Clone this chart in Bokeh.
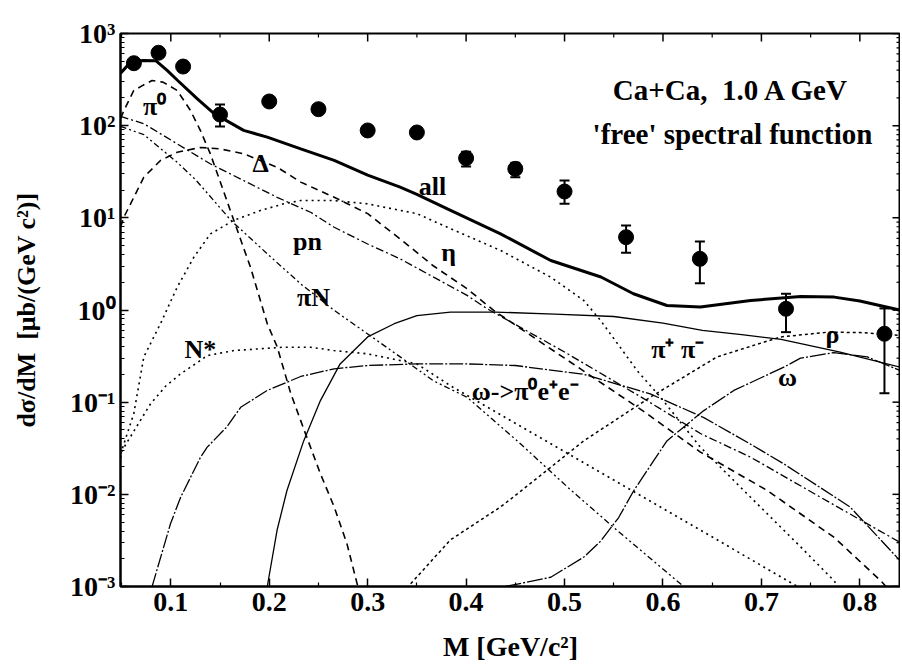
import math
from bokeh.plotting import figure
from bokeh.models import FixedTicker, CustomJSTickFormatter
from bokeh.core.properties import value
from bokeh.embed import file_html
from bokeh.resources import INLINE

FONT = "Liberation Serif"

# ---------------- data ----------------
all_x = [0.049, 0.060, 0.072, 0.085, 0.096, 0.107, 0.127, 0.144, 0.174, 0.198, 0.232, 0.266,
         0.300, 0.333, 0.350, 0.381, 0.435, 0.486, 0.537, 0.570, 0.604, 0.638, 0.689, 0.740,
         0.774, 0.800, 0.842]
all_y = [371, 500, 510, 505, 400, 309, 195, 135, 89, 75, 56, 42,
         29, 21.5, 18, 12.5, 6.7, 3.44, 2.28, 1.50, 1.12, 1.08, 1.27, 1.40,
         1.38, 1.25, 0.99]

pi0_x = [0.049, 0.0524, 0.0624, 0.072, 0.081, 0.092, 0.1065, 0.120, 0.130, 0.140, 0.150, 0.164,
         0.181, 0.198, 0.208, 0.222, 0.237, 0.252, 0.266, 0.279, 0.290]
pi0_y = [120, 146, 241, 275, 309, 297, 241, 146, 89, 50, 25, 9.4,
         2.9, 0.71, 0.40, 0.123, 0.045, 0.0167, 0.0073, 0.0029, 0.001]

delta_x = [0.049, 0.0524, 0.0726, 0.0895, 0.1065, 0.130, 0.150, 0.174, 0.208, 0.232, 0.266, 0.300,
           0.333, 0.367, 0.401, 0.428, 0.500, 0.580, 0.638, 0.706, 0.774, 0.821, 0.835]
delta_y = [8, 10.2, 27.6, 41.9, 51.5, 58, 56, 49.5, 35.4, 24.4, 16.7, 11.1,
           5.9, 3.0, 1.7, 0.99, 0.30, 0.08, 0.0287, 0.011, 0.0034, 0.00116, 0.0008]

pn_x = [0.049, 0.0726, 0.1065, 0.140, 0.174, 0.208, 0.242, 0.266, 0.300, 0.333, 0.367, 0.401,
        0.4215, 0.500, 0.580, 0.6385, 0.689, 0.757, 0.841]
pn_y = [126, 105, 63.5, 38.6, 25.4, 16.7, 11.5, 7.9, 5.2, 3.59, 2.27, 1.44,
        1.03, 0.35, 0.11, 0.0454, 0.0253, 0.0097, 0.0030]

piN_x = [0.049, 0.0726, 0.1065, 0.125, 0.1437, 0.161, 0.198, 0.232, 0.266, 0.300, 0.333, 0.367,
         0.401, 0.452, 0.503, 0.553, 0.621]
piN_y = [98, 80, 40, 26, 15.4, 9.4, 4.07, 1.92, 0.99, 0.55, 0.31, 0.17,
         0.113, 0.038, 0.012, 0.0041, 0.001]

eta_x = [0.049, 0.0624, 0.0726, 0.0895, 0.1065, 0.1234, 0.1403, 0.164, 0.191, 0.2148, 0.232, 0.2656,
         0.2995, 0.350, 0.381, 0.435, 0.486, 0.5195, 0.5366, 0.5738, 0.5975, 0.638, 0.689, 0.7397,
         0.7736, 0.800]
eta_y = [0.0275, 0.075, 0.31, 0.71, 1.77, 3.74, 6.7, 9.4, 12.0, 14.2, 15.4, 15.4,
         14.2, 11.1, 7.9, 4.43, 2.27, 1.27, 0.77, 0.22, 0.113, 0.0325, 0.0093, 0.0027,
         0.00116, 0.0005]

nstar_x = [0.049, 0.0506, 0.0794, 0.095, 0.110, 0.130, 0.137, 0.164, 0.2148, 0.242, 0.2656, 0.2995,
           0.350, 0.3845, 0.450, 0.550, 0.638, 0.7365, 0.760]
nstar_y = [0.025, 0.030, 0.096, 0.15, 0.203, 0.283, 0.32, 0.363, 0.395, 0.395, 0.363, 0.335,
           0.26, 0.15, 0.059, 0.0143, 0.0041, 0.001, 0.0007]

omdal_x = [0.081, 0.0997, 0.110, 0.130, 0.137, 0.157, 0.171, 0.198, 0.232, 0.266, 0.300, 0.350,
           0.400, 0.450, 0.520, 0.587, 0.6415, 0.689, 0.7228, 0.790, 0.841]
omdal_y = [0.001, 0.0048, 0.0093, 0.025, 0.0325, 0.054, 0.088, 0.134, 0.19, 0.23, 0.25, 0.26,
           0.26, 0.25, 0.20, 0.123, 0.068, 0.035, 0.0214, 0.0073, 0.0019]

pipi_x = [0.198, 0.208, 0.218, 0.235, 0.252, 0.272, 0.300, 0.327, 0.350, 0.384, 0.430, 0.490,
          0.550, 0.600, 0.640, 0.680, 0.720, 0.780, 0.841]
pipi_y = [0.001, 0.0041, 0.011, 0.038, 0.104, 0.26, 0.51, 0.71, 0.87, 0.95, 0.95, 0.90,
          0.85, 0.72, 0.60, 0.54, 0.48, 0.35, 0.24]

rho_x = [0.3437, 0.384, 0.435, 0.452, 0.5195, 0.587, 0.655, 0.7194, 0.7669, 0.800, 0.841]
rho_y = [0.00107, 0.0032, 0.0073, 0.0101, 0.038, 0.113, 0.31, 0.51, 0.574, 0.57, 0.53]

omega_x = [0.440, 0.486, 0.520, 0.5366, 0.555, 0.5704, 0.604, 0.6415, 0.672, 0.7228, 0.7397,
           0.7736, 0.8075, 0.841]
omega_y = [0.001, 0.00126, 0.0021, 0.0031, 0.0056, 0.011, 0.038, 0.081, 0.134, 0.24, 0.30,
           0.345, 0.31, 0.22]

# DLS data points
pts_x = [0.0625, 0.0875, 0.1125, 0.15, 0.2, 0.25, 0.3, 0.35, 0.4, 0.45, 0.5, 0.5625, 0.6375, 0.725, 0.825]
pts_y = [476, 618, 438, 132, 183, 151, 88.7, 84.4, 44.4, 34.0, 19.3, 6.17, 3.59, 1.03, 0.552]
pts_lo = [440, 570, 405, 98, 170, 140, 82, 78, 36, 27.5, 14.2, 4.18, 1.95, 0.575, 0.125]
pts_hi = [515, 670, 475, 170, 197, 163, 96, 91, 52, 39.5, 25.4, 8.26, 5.53, 1.5, 1.04]

# axis ticks
x_major = [0.1, 0.2, 0.3, 0.4, 0.5, 0.6, 0.7, 0.8]
x_minor = [0.05, 0.15, 0.25, 0.35, 0.45, 0.55, 0.65, 0.75]
y_major = [1e-3, 1e-2, 1e-1, 1e0, 1e1, 1e2, 1e3]
y_minor = [k * 10.0 ** e for e in range(-3, 3) for k in range(2, 10)]

# curve labels (text, x, y)
lab_text = ["π⁰", "Δ", "all", "pn", "η", "πN", "N*", "π⁺ π⁻", "ρ", "ω", "ω->π⁰e⁺e⁻"]
lab_x = [0.0835, 0.1913, 0.3659, 0.2389, 0.3822, 0.2450, 0.1300, 0.6150, 0.7722, 0.7266, 0.4600]
lab_y = [160, 38.9, 21.9, 5.53, 4.2, 1.37, 0.37, 0.37, 0.54, 0.185, 0.13]

X_LO, X_HI = 0.0489, 0.8413
Y_LO, Y_HI = 1e-3, 1e3

# ---------------- figure ----------------
p = figure(width=900, height=666, x_range=(X_LO, X_HI), y_range=(Y_LO, Y_HI),
           y_axis_type="log", output_backend="svg", toolbar_location=None,
           min_border_left=120, min_border_right=0, min_border_top=33, min_border_bottom=80)
p.grid.visible = False
p.background_fill_color = "white"
p.border_fill_color = "white"
p.outline_line_color = "black"
p.outline_line_width = 2

sup_code = """
const e = Math.round(Math.log10(tick));
const m = {"-": "\u207b", "0": "\u2070", "1": "\u00b9", "2": "\u00b2", "3": "\u00b3"};
return "10" + String(e).split("").map(c => m[c]).join("");
"""

def style_axis(ax):
    ax.axis_line_width = 2
    ax.major_tick_in = 8
    ax.major_tick_out = 0
    ax.minor_tick_in = 4
    ax.minor_tick_out = 0
    ax.major_tick_line_width = 1.5
    ax.minor_tick_line_width = 1.2
    ax.major_label_text_font = FONT
    ax.major_label_text_font_style = "bold"
    ax.major_label_text_font_size = "28px"
    ax.major_label_text_color = "black"
    ax.axis_label_text_font = FONT
    ax.axis_label_text_font_style = "bold"
    ax.axis_label_text_color = "black"

xa = p.xaxis[0]
xa.ticker = FixedTicker(ticks=x_major, minor_ticks=x_minor)
style_axis(xa)
xa.axis_label = "M [GeV/c²]"
xa.axis_label_text_font_size = "28px"
xa.major_label_standoff = 6
xa.axis_label_standoff = 17

ya = p.yaxis[0]
ya.ticker = FixedTicker(ticks=y_major, minor_ticks=y_minor)
ya.formatter = CustomJSTickFormatter(code=sup_code)
style_axis(ya)
ya.axis_label = "dσ/dM\u00a0 [μb/(GeV c²)]"
ya.axis_label_text_font_size = "26px"
ya.major_label_standoff = 5
ya.axis_label_standoff = 26

# mirrored inner ticks on the top and right frame edges (clipped to the frame)
p.scatter(x_major, [Y_HI] * len(x_major), marker="dash", angle=math.pi / 2, size=16,
          line_color="black", line_width=1.5)
p.scatter(x_minor, [Y_HI] * len(x_minor), marker="dash", angle=math.pi / 2, size=8,
          line_color="black", line_width=1.2)
p.scatter([X_HI] * len(y_major), y_major, marker="dash", size=16,
          line_color="black", line_width=1.5)
p.scatter([X_HI] * len(y_minor), y_minor, marker="dash", size=8,
          line_color="black", line_width=1.2)

# ---------------- curves ----------------
p.line(nstar_x, nstar_y, line_color="black", line_width=1.6, line_dash="2 4")
p.line(eta_x, eta_y, line_color="black", line_width=1.6, line_dash="2 4")
p.line(rho_x, rho_y, line_color="black", line_width=1.5, line_dash="3 3")
p.line(pi0_x, pi0_y, line_color="black", line_width=1.6, line_dash="7 5")
p.line(delta_x, delta_y, line_color="black", line_width=1.6, line_dash="7 5")
p.line(pn_x, pn_y, line_color="black", line_width=1.3, line_dash="8 3 2 3")
p.line(piN_x, piN_y, line_color="black", line_width=1.3, line_dash="6 3 2 3 2 3")
p.line(omdal_x, omdal_y, line_color="black", line_width=1.3, line_dash="14 2 2 2")
p.line(pipi_x, pipi_y, line_color="black", line_width=1.3)
p.line(omega_x, omega_y, line_color="black", line_width=1.3, line_dash="16 2 2 2")
p.line(all_x, all_y, line_color="black", line_width=3)

# ---------------- data points ----------------
p.segment(x0=pts_x, y0=pts_lo, x1=pts_x, y1=pts_hi, line_color="black", line_width=2)
p.scatter(pts_x, pts_lo, marker="dash", size=10, line_color="black", line_width=2)
p.scatter(pts_x, pts_hi, marker="dash", size=10, line_color="black", line_width=2)
p.scatter(pts_x, pts_y, marker="circle", size=15, fill_color="black", line_color="black")

# ---------------- labels ----------------
p.text(x=lab_x, y=lab_y, text=lab_text, text_font=value(FONT), text_font_style="bold",
       text_font_size="26px", text_align="center", text_baseline="middle", text_color="black")

p.text(x=[0.6696, 0.6706], y=[241, 82.2],
       text=["Ca+Ca,\u00a0 1.0 A GeV", "'free' spectral function"],
       text_font=value(FONT), text_font_style="bold", text_font_size="29px",
       text_align="center", text_baseline="middle", text_color="black")

open("out.html", "w", encoding="utf-8").write(file_html(p, INLINE))
